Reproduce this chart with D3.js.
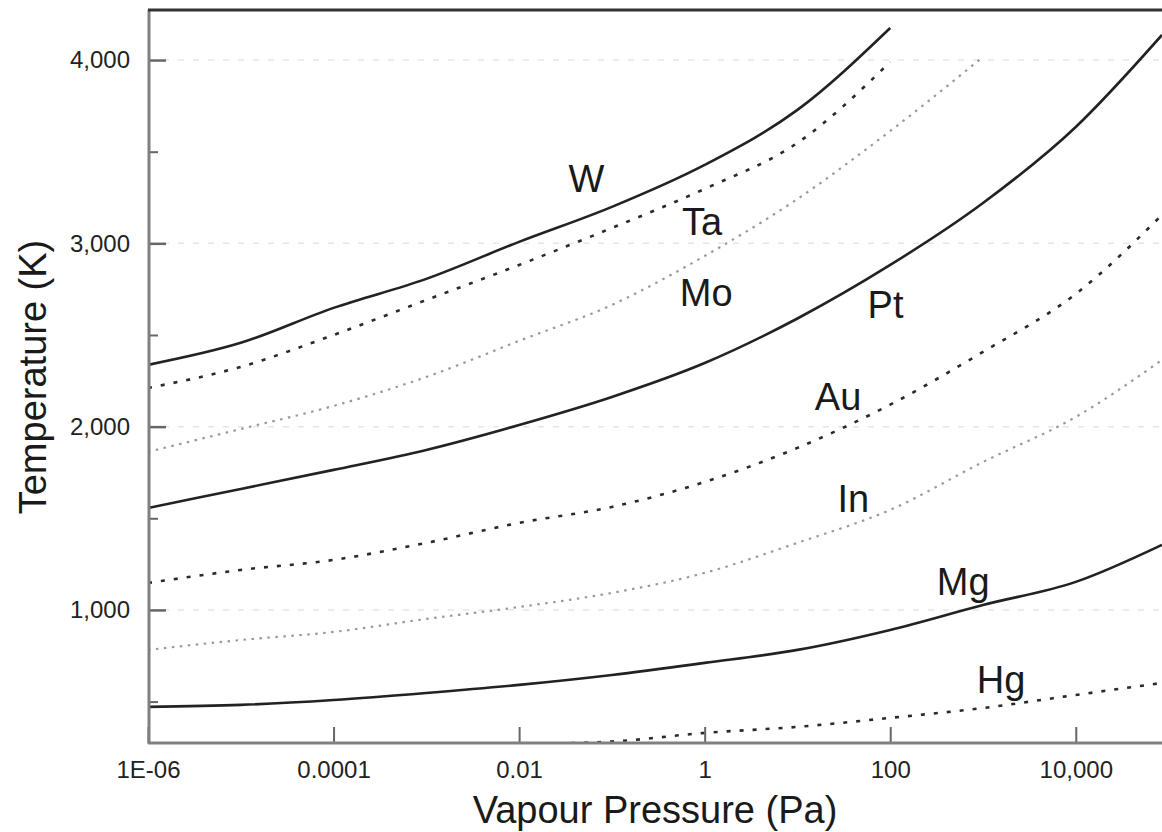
<!DOCTYPE html>
<html>
<head>
<meta charset="utf-8">
<script src="https://cdn.jsdelivr.net/npm/d3@7"></script>
<style>
	body { margin: 0; background: #fff; }
	svg { display: block; font-family: "Liberation Sans", Arial, sans-serif; }
</style>
</head>
<body>
<div class="chart"></div>
<script>
var width = 1162;
var height = 832;

// data (pressure in Pa, temperature in K)
var pressures = [1e-6, 1e-5, 1e-4, 1e-3, 1e-2, 1e-1, 1, 10, 100, 1e3, 1e4, 8.5e4];
var tungsten = [2337, 2457, 2648, 2806, 3008, 3199, 3428, 3728, 4175];
var tantalum = [2211, 2326, 2500, 2691, 2882, 3084, 3297, 3548, 3990];
var molybdenum = [1862, 1987, 2113, 2271, 2468, 2664, 2931, 3242, 3613, 4017];
var platinum = [1556, 1660, 1764, 1873, 2009, 2162, 2347, 2590, 2882, 3220, 3635, 4137];
var gold = [1147, 1218, 1273, 1366, 1475, 1562, 1698, 1884, 2120, 2408, 2724, 3155];
var indium = [782, 836, 880, 951, 1016, 1093, 1202, 1366, 1546, 1807, 2053, 2364];
var magnesium = [471, 482, 509, 547, 591, 645, 711, 782, 891, 1027, 1153, 1355];
var mercury = [null, null, null, null, 268, 282, 329, 362, 411, 465, 536, 602];

var metals = ["W", "Ta", "Mo", "Pt", "Au", "In", "Mg", "Hg"];
var series = [tungsten, tantalum, molybdenum, platinum, gold, indium, magnesium, mercury];
var styles = ["solid", "dashed", "dotted", "solid", "dashed", "dotted", "solid", "dashed"];

// where each name sits (pressure, temperature)
var labelP = [0.034, 0.57, 0.54, 57, 15.4, 27, 318, 857];
var labelT = [3280, 3046, 2658, 2593, 2091, 1535, 1082, 547];

var xTicks = [1e-6, 1e-4, 1e-2, 1, 100, 1e4];
var xTickLabels = ["1E-06", "0.0001", "0.01", "1", "100", "10,000"];
var yTicks = [1000, 2000, 3000, 4000];
var yTickLabels = ["1,000", "2,000", "3,000", "4,000"];
var yMinorTicks = [500, 1500, 2500, 3500];

var plotLeft = 148, plotTop = 10, plotBottom = 743;

var x = d3.scaleLog().domain([1e-6, 8.5e4]).range([plotLeft, width]);
var y = d3.scaleLinear().domain([274, 4273]).range([plotBottom, plotTop]);

var svg = d3.select('.chart').append('svg')
	.attr('width', width)
	.attr('height', height);

svg.append('defs').append('clipPath').attr('id', 'plot')
	.append('rect')
	.attr('x', plotLeft).attr('y', plotTop)
	.attr('width', width - plotLeft).attr('height', plotBottom - plotTop);

// faint grid
svg.append('g').selectAll('line').data(yTicks).enter().append('line')
	.attr('x1', plotLeft).attr('x2', width)
	.attr('y1', d => y(d)).attr('y2', d => y(d))
	.attr('stroke', '#e6e6e6')
	.attr('stroke-width', 1.5)
	.attr('stroke-dasharray', '6,9');

// curves
var line = d3.line()
	.defined(d => d[1] !== null)
	.x(d => x(d[0]))
	.y(d => y(d[1]))
	.curve(d3.curveMonotoneX);

var strokeFor = { solid: '#222', dashed: '#2a2a2a', dotted: '#9a9a9a' };
var dashFor = { solid: null, dashed: '4,9', dotted: '2.5,5.5' };
var widthFor = { solid: 2.6, dashed: 2.6, dotted: 2.2 };

svg.append('g').attr('clip-path', 'url(#plot)')
	.selectAll('path').data(series).enter().append('path')
	.attr('d', s => line(s.map((t, i) => [pressures[i], t])))
	.attr('fill', 'none')
	.attr('stroke', (s, i) => strokeFor[styles[i]])
	.attr('stroke-width', (s, i) => widthFor[styles[i]])
	.attr('stroke-dasharray', (s, i) => dashFor[styles[i]]);

// curve names
svg.append('g').selectAll('text').data(metals).enter().append('text')
	.attr('x', (d, i) => x(labelP[i]))
	.attr('y', (d, i) => y(labelT[i]))
	.attr('font-size', 38)
	.attr('fill', '#1a1a1a')
	.text(d => d);

// x axis
var xAxis = d3.axisBottom(x)
	.tickValues(xTicks)
	.tickFormat((d, i) => xTickLabels[i])
	.tickSizeInner(-16)
	.tickSizeOuter(0)
	.tickPadding(18);

var gx = svg.append('g').attr('transform', 'translate(0,' + plotBottom + ')').call(xAxis);
gx.select('.domain').remove();
gx.selectAll('line').attr('stroke', '#666').attr('stroke-width', 2);
gx.selectAll('text').attr('font-size', 24).attr('fill', '#222').attr('font-family', null);

// y axis
var yAxis = d3.axisLeft(y)
	.tickValues(yTicks)
	.tickFormat((d, i) => yTickLabels[i])
	.tickSizeInner(-17)
	.tickSizeOuter(0)
	.tickPadding(19);

var gy = svg.append('g').attr('transform', 'translate(' + (plotLeft + 1) + ',0)').call(yAxis);
gy.select('.domain').remove();
gy.selectAll('line').attr('stroke', '#666').attr('stroke-width', 2.5);
gy.selectAll('text').attr('font-size', 24).attr('fill', '#222').attr('font-family', null);

var gyMinor = svg.append('g').attr('transform', 'translate(' + (plotLeft + 1) + ',0)')
	.call(d3.axisLeft(y).tickValues(yMinorTicks).tickFormat('').tickSizeInner(-9).tickSizeOuter(0));
gyMinor.select('.domain').remove();
gyMinor.selectAll('line').attr('stroke', '#666').attr('stroke-width', 2);

// frame: grey left and bottom, dark top
svg.append('line')
	.attr('x1', plotLeft + 1).attr('x2', plotLeft + 1)
	.attr('y1', plotTop).attr('y2', plotBottom + 1)
	.attr('stroke', '#808080').attr('stroke-width', 3);
svg.append('line')
	.attr('x1', plotLeft).attr('x2', width)
	.attr('y1', plotBottom).attr('y2', plotBottom)
	.attr('stroke', '#808080').attr('stroke-width', 3);
svg.append('line')
	.attr('x1', plotLeft).attr('x2', width)
	.attr('y1', plotTop).attr('y2', plotTop)
	.attr('stroke', '#333').attr('stroke-width', 3);

// axis titles
svg.append('text')
	.attr('x', 655).attr('y', 823)
	.attr('text-anchor', 'middle')
	.attr('font-size', 38)
	.attr('fill', '#1a1a1a')
	.text('Vapour Pressure (Pa)');

svg.append('text')
	.attr('transform', 'translate(46,377) rotate(-90)')
	.attr('text-anchor', 'middle')
	.attr('font-size', 38)
	.attr('fill', '#1a1a1a')
	.text('Temperature (K)');
</script>
</body>
</html>
